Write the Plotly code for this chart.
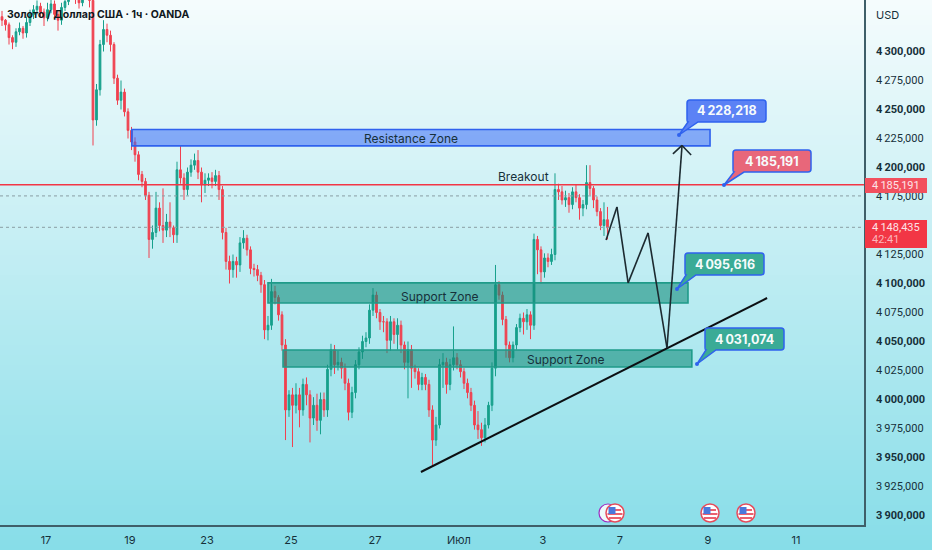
import plotly.graph_objects as go

# hourly-ish gold candles, ten per row
opens = [
    4330,4327,4323,4312,4308,4317,4320,4316,4325,4332,
    4336,4339,4334,4329,4336,4341,4332,4327,4338,4343,
    4349,4351,4347,4342,4350,4353,4344,4241,4267,4306,
    4319,4314,4306,4277,4258,4265,4248,4232,4222,4211,
    4194,4188,4176,4138,4144,4165,4150,4146,4153,4148,
    4142,4198,4191,4181,4196,4202,4206,4196,4185,4189,
    4191,4188,4193,4181,4144,4119,4112,4119,4116,4135,
    4139,4129,4113,4112,4107,4099,4060,4064,4093,4088,
    4073,4047,3991,4004,3995,4004,3991,4013,4004,3984,
    3995,3982,4000,3991,4026,4043,4030,4032,4027,4014,
    3989,4006,4030,4041,4050,4053,4077,4090,4075,4067,
    4067,4051,4067,4056,4064,4047,4032,4043,4027,4024,
    4013,4019,4013,3991,3965,3978,4030,4032,4013,4030,
    4036,4030,4024,4014,4006,3995,3978,3974,3967,3978,
    3995,4027,4099,4090,4069,4047,4036,4047,4062,4070,
    4067,4073,4064,4138,4129,4110,4122,4119,4125,4181,
    4179,4172,4174,4168,4179,4174,4165,4168,4187,4182,
    4172,4162,4150,4155,
]
highs = [
    4335,4328,4325,4314,4320,4325,4322,4330,4336,4340,
    4344,4342,4337,4342,4346,4344,4335,4342,4348,4354,
    4356,4353,4349,4354,4358,4356,4350,4272,4310,4327,
    4324,4318,4308,4280,4275,4268,4251,4235,4226,4214,
    4197,4191,4179,4150,4179,4170,4182,4160,4170,4150,
    4205,4219,4195,4200,4207,4212,4215,4200,4195,4195,
    4196,4198,4197,4184,4148,4124,4125,4123,4140,4146,
    4142,4132,4117,4116,4110,4103,4072,4104,4098,4090,
    4076,4052,4008,4010,4014,4010,4018,4019,4008,4002,
    4005,4006,4006,4030,4048,4047,4042,4036,4031,4018,
    4011,4034,4045,4055,4058,4082,4096,4093,4078,4072,
    4070,4072,4070,4070,4068,4050,4050,4047,4030,4027,
    4023,4022,4017,3995,3985,4035,4040,4036,4035,4063,
    4040,4034,4027,4018,4010,3999,3990,3980,3984,3998,
    4032,4116,4102,4093,4072,4050,4050,4065,4074,4075,
    4078,4076,4143,4141,4132,4126,4126,4130,4195,4186,
    4184,4180,4178,4183,4185,4177,4172,4202,4202,4184,
    4175,4165,4170,4166,
]
lows = [
    4322,4318,4306,4302,4304,4314,4311,4312,4322,4328,
    4332,4330,4322,4326,4333,4328,4318,4323,4335,4340,
    4345,4341,4337,4339,4347,4338,4219,4236,4262,4300,
    4308,4300,4272,4254,4250,4244,4225,4215,4205,4189,
    4183,4172,4122,4130,4140,4145,4135,4140,4140,4135,
    4135,4186,4172,4176,4192,4198,4190,4170,4178,4184,
    4182,4184,4172,4138,4112,4100,4105,4105,4110,4130,
    4124,4108,4106,4102,4092,4052,4051,4060,4082,4068,
    4042,3965,3985,3959,3988,3976,3986,3995,3963,3978,
    3973,3970,3985,3985,4020,4022,4025,4018,4008,3982,
    3984,4001,4026,4035,4045,4048,4072,4070,4060,4058,
    4040,4042,4048,4043,4040,4026,4001,4010,4018,4008,
    4008,4008,3985,3943,3960,3975,4010,4005,4008,4025,
    4026,4019,4009,4001,3990,3974,3966,3960,3963,3975,
    3990,4020,4086,4064,4036,4032,4032,4043,4058,4056,
    4060,4052,4060,4108,4100,4105,4114,4116,4120,4172,
    4168,4166,4161,4164,4170,4155,4158,4164,4176,4165,
    4158,4146,4141,4138,
]
closes = [
    4327,4323,4312,4308,4317,4320,4316,4325,4332,4336,
    4339,4334,4329,4336,4341,4332,4327,4338,4343,4349,
    4351,4347,4342,4350,4353,4344,4241,4267,4306,4319,
    4314,4306,4277,4258,4265,4248,4232,4222,4211,4194,
    4188,4176,4138,4144,4165,4150,4146,4153,4148,4142,
    4198,4191,4181,4196,4202,4206,4196,4185,4189,4191,
    4188,4193,4181,4144,4119,4112,4119,4116,4135,4139,
    4129,4113,4112,4107,4099,4060,4064,4093,4088,4073,
    4047,3991,4004,3995,4004,3991,4013,4004,3984,3995,
    3982,4000,3991,4026,4043,4030,4032,4027,4014,3989,
    4006,4030,4041,4050,4053,4077,4090,4075,4067,4067,
    4051,4067,4056,4064,4047,4032,4043,4027,4024,4013,
    4019,4013,3991,3965,3978,4030,4032,4013,4030,4036,
    4030,4024,4014,4006,3995,3978,3974,3967,3978,3995,
    4027,4099,4090,4069,4047,4036,4047,4062,4070,4067,
    4073,4064,4138,4129,4110,4122,4119,4125,4181,4179,
    4172,4174,4168,4179,4174,4165,4168,4187,4182,4172,
    4162,4150,4155,4148,
]

date_labels = ["17", "19", "23", "25", "27", "Июл", "3", "7", "9", "11"]
date_bars = [12.57, 36.57, 58.57, 82.57, 106.57, 130.57, 154.57, 176.57, 201.71, 226.86]

# 4150 sits behind the live price tag in the picture, so no label for it
price_ticks = [3900, 3925, 3950, 3975, 4000, 4025, 4050, 4075, 4100, 4125,
               4175, 4200, 4225, 4250, 4275, 4300]
price_labels = []
for p in price_ticks:
    s = f"{p // 1000}\u2009{p % 1000:03d},000"
    price_labels.append(f"<b>{s}</b>" if p % 50 == 0 else s)

W, H = 932, 550
RED = "#f23645"
BLUE = "#2f62ee"
TEAL = "#1f9b89"
DARK = "#16303a"


def fx(px):
    return px / W


def fy(py):
    return 1 - py / H


fig = go.Figure()

fig.add_trace(go.Candlestick(
    x=list(range(len(closes))),
    open=opens, high=highs, low=lows, close=closes,
    increasing=dict(line=dict(color="#17a08c", width=1), fillcolor="#17a08c"),
    decreasing=dict(line=dict(color="#f0404f", width=1), fillcolor="#f0404f"),
    whiskerwidth=0,
    showlegend=False,
    hoverinfo="skip",
))

shapes = []

# background gradient, strips from top to bottom
top_col = (246, 252, 253)
bot_col = (134, 221, 232)
n_strips = 110
for k in range(n_strips):
    t = (k + 0.5) / n_strips
    rgb = [round(a + (b - a) * t) for a, b in zip(top_col, bot_col)]
    shapes.append(dict(type="rect", xref="paper", yref="paper", layer="below",
                       x0=0, x1=1, y0=1 - (k + 1.02) / n_strips, y1=1 - k / n_strips,
                       fillcolor=f"rgb({rgb[0]},{rgb[1]},{rgb[2]})", line_width=0))

# price lines
shapes.append(dict(type="line", xref="x domain", yref="y", x0=0, x1=1, y0=4175.5, y1=4175.5,
                   line=dict(color="#8a9ea4", width=1, dash="dot")))
shapes.append(dict(type="line", xref="x domain", yref="y", x0=0, x1=1, y0=4148.435, y1=4148.435,
                   line=dict(color="#8a9ea4", width=1, dash="dot")))
shapes.append(dict(type="line", xref="x domain", yref="y", x0=0, x1=1, y0=4185.191, y1=4185.191,
                   line=dict(color=RED, width=1.6)))

# zones
shapes.append(dict(type="rect", xref="x", yref="y", x0=37.1, x1=202.3, y0=4218.6, y1=4232.8,
                   fillcolor="rgba(58,108,245,0.55)", line=dict(color=BLUE, width=1.6)))
shapes.append(dict(type="rect", xref="x", yref="y", x0=76.0, x1=196.0, y0=4083.2, y1=4100.5,
                   fillcolor="rgba(18,140,120,0.58)", line=dict(color=TEAL, width=1.6)))
shapes.append(dict(type="rect", xref="x", yref="y", x0=80.3, x1=197.1, y0=4028.0, y1=4042.7,
                   fillcolor="rgba(18,140,120,0.58)", line=dict(color=TEAL, width=1.6)))

# trend line
shapes.append(dict(type="line", xref="x", yref="y", x0=119.7, x1=218.6, y0=3937.5, y1=4087.5,
                   line=dict(color="#0b0f12", width=2)))

# projected path and arrow head
path_bars = [172.6, 175.7, 178.9, 184.6, 190.0, 194.3]
path_prices = [4137.5, 4166.0, 4100.5, 4143.6, 4044.4, 4219.0]
for i in range(len(path_bars) - 1):
    shapes.append(dict(type="line", xref="x", yref="y",
                       x0=path_bars[i], x1=path_bars[i + 1],
                       y0=path_prices[i], y1=path_prices[i + 1],
                       line=dict(color="#1c2a30", width=1.6)))
for b, p in [(191.7, 4211.7), (196.9, 4210.8)]:
    shapes.append(dict(type="line", xref="x", yref="y", x0=b, x1=194.3, y0=p, y1=4219.0,
                       line=dict(color="#1c2a30", width=1.6)))

annotations = []


def label(px, py, text, size=12, color=DARK, xanchor="center", family="Inter"):
    annotations.append(dict(xref="paper", yref="paper", x=fx(px), y=fy(py), text=text,
                            showarrow=False, xanchor=xanchor, yanchor="middle",
                            font=dict(family=family, size=size, color=color)))


def callout(x0, y0, x1, y1, tip_x, tip_y, fill, text):
    r = 3
    pts = [f"M{fx(x0 + r)},{fy(y0)}", f"L{fx(x1 - r)},{fy(y0)}",
           f"Q{fx(x1)},{fy(y0)} {fx(x1)},{fy(y0 + r)}",
           f"L{fx(x1)},{fy(y1 - r)}", f"Q{fx(x1)},{fy(y1)} {fx(x1 - r)},{fy(y1)}",
           f"L{fx(x0 + 11)},{fy(y1)}", f"L{fx(tip_x)},{fy(tip_y)}", f"L{fx(x0 + 1)},{fy(y1)}",
           f"Q{fx(x0)},{fy(y1)} {fx(x0)},{fy(y1 - r)}",
           f"L{fx(x0)},{fy(y0 + r)}", f"Q{fx(x0)},{fy(y0)} {fx(x0 + r)},{fy(y0)}", "Z"]
    shapes.append(dict(type="path", xref="paper", yref="paper", path=" ".join(pts),
                       fillcolor=fill, line=dict(color=BLUE, width=1.5)))
    shapes.append(dict(type="circle", xref="paper", yref="paper",
                       x0=fx(tip_x - 2), x1=fx(tip_x + 2), y0=fy(tip_y + 2), y1=fy(tip_y - 2),
                       fillcolor=BLUE, line_width=0))
    label((x0 + x1) / 2, (y0 + y1) / 2, f"<b>{text}</b>", size=12.5, color="#f6fbfb")


callout(687, 100, 766, 122, 679, 135, "#5b82f5", "4\u2009228,218")
callout(733, 150, 811, 172, 724, 185, "#e8677a", "4\u2009185,191")
callout(685, 253, 764, 275, 677, 289, "#3aab96", "4\u2009095,616")
callout(705, 328, 784, 350, 697, 364, "#3aab96", "4\u2009031,074")

# price tags on the axis
shapes.append(dict(type="rect", xref="paper", yref="paper", x0=fx(865), x1=fx(927), y0=fy(193), y1=fy(178),
                   fillcolor="#f2505e", line_width=0))
shapes.append(dict(type="rect", xref="paper", yref="paper", x0=fx(865), x1=fx(927), y0=fy(248), y1=fy(220),
                   fillcolor=RED, line_width=0))
label(896, 185.5, "4\u2009185,191", size=11, color="#fde3e6", family="Roboto")
label(896, 227, "4\u2009148,435", size=11, color="#fde3e6", family="Roboto")
label(885, 240, "42:41", size=11, color="#fbb6bd", family="Roboto")

# event icons
shapes.append(dict(type="circle", xref="paper", yref="paper", x0=fx(599), x1=fx(617), y0=fy(522), y1=fy(504),
                   fillcolor="#eefbfc", line=dict(color="#a02bc0", width=1.2)))
for cx in [615, 710, 746]:
    shapes.append(dict(type="circle", xref="paper", yref="paper", x0=fx(cx - 9), x1=fx(cx + 9),
                       y0=fy(522), y1=fy(504), fillcolor="white", line=dict(color="#e64c5c", width=1.5)))
    for dy, half in [(-3, 6), (1, 7.5), (5, 6)]:
        shapes.append(dict(type="line", xref="paper", yref="paper", x0=fx(cx - half), x1=fx(cx + half),
                           y0=fy(513 + dy), y1=fy(513 + dy), line=dict(color="#e8505f", width=1.8)))
    shapes.append(dict(type="rect", xref="paper", yref="paper", x0=fx(cx - 6.5), x1=fx(cx + 0.5),
                       y0=fy(514), y1=fy(507), fillcolor="#4a78dc", line_width=0))

label(5, 15, "<b>Золото / Доллар США · 1ч · OANDA</b>", size=10.5, color="#10181c", xanchor="left")
label(887, 15, "USD", size=11, color=DARK)
label(411, 138, "Resistance Zone", size=12)
label(440, 296, "Support Zone", size=12)
label(566, 359, "Support Zone", size=12)
label(523, 176, "Breakout", size=12)

fig.update_layout(
    width=W, height=H,
    margin=dict(l=0, r=0, t=0, b=0),
    paper_bgcolor="#f6fcfd",
    plot_bgcolor="rgba(0,0,0,0)",
    shapes=shapes,
    annotations=annotations,
    showlegend=False,
    xaxis=dict(
        domain=[0, 864 / W], range=[-0.571, 246.29],
        rangeslider=dict(visible=False),
        tickmode="array", tickvals=date_bars, ticktext=date_labels,
        tickfont=dict(family="Inter", size=11, color=DARK),
        showgrid=False, zeroline=False, ticks="",
        showline=True, linecolor="#3f5f69", linewidth=1.5,
        ticklabelstandoff=4,
    ),
    yaxis=dict(
        domain=[1 - 525 / H, 1], range=[3891.8, 4344.4],
        side="right",
        tickmode="array", tickvals=price_ticks, ticktext=price_labels,
        tickfont=dict(family="Roboto", size=11, color=DARK),
        showgrid=False, zeroline=False, ticks="",
        showline=True, linecolor="#3f5f69", linewidth=1.5,
        ticklabelstandoff=8,
    ),
)

# page has a default body margin that would shift the whole picture
fig.write_html("out.html", config={"displayModeBar": False},
               post_script="document.body.style.margin='0';document.body.style.overflow='hidden';")
